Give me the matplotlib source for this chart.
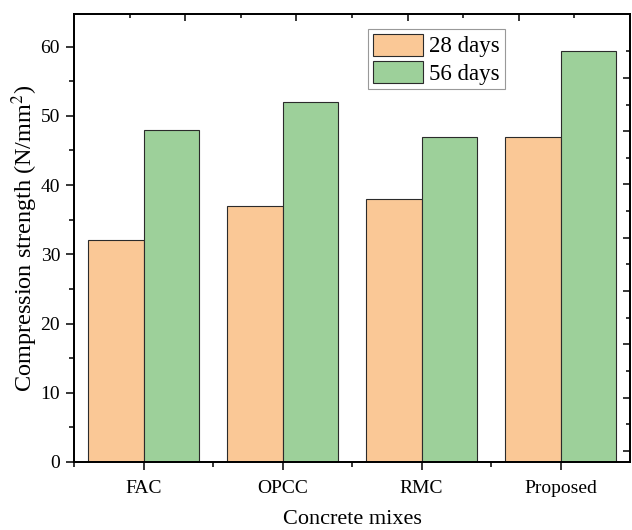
import matplotlib
matplotlib.use("Agg")
import numpy as np
import matplotlib.pyplot as plt
from matplotlib.ticker import MultipleLocator, FixedLocator, NullFormatter

# data
mixes = ['FAC', 'OPCC', 'RMC', 'Proposed']
days28 = [32, 37, 38, 47]
days56 = [48, 52, 47, 59.3]
series_names = ['28 days', '56 days']

c28 = '#FAC896'
c56 = '#9DD09A'

plt.rcParams['font.family'] = ['Liberation Serif', 'DejaVu Serif']
plt.rcParams['mathtext.fontset'] = 'stix'

fig = plt.figure(figsize=(6.32, 5.3), dpi=100)
ax = fig.add_axes([74/632, 68/530, 556/632, 448/530])

x = np.arange(len(mixes))
w = 0.4
ax.bar(x, days28, width=-w, align='edge', color=c28, edgecolor='#2b2b2b', linewidth=0.8, label=series_names[0], zorder=2)
ax.bar(x, days56, width=w, align='edge', color=c56, edgecolor='#2b2b2b', linewidth=0.8, label=series_names[1], zorder=2)

ax.set_xlim(-0.5, 3.5)
ax.set_ylim(0, 64.7)
ax.set_xticks(x)
ax.set_xticklabels(mixes)
ax.xaxis.set_minor_locator(FixedLocator([-0.5, 0.5, 1.5, 2.5]))
ax.yaxis.set_major_locator(MultipleLocator(10))
ax.yaxis.set_minor_locator(MultipleLocator(5))
ax.tick_params(which='major', direction='out', length=6, width=1.1, labelsize=14, pad=4)
ax.tick_params(axis='x', which='major', pad=7)
ax.tick_params(which='minor', direction='out', length=3.5, width=1.1)
for s in ax.spines.values():
    s.set_linewidth(1.1)

ax.set_xlabel('Concrete mixes', fontsize=16, labelpad=9)
ax.set_ylabel('Compression strength (N/mm$^2$)', fontsize=17.5, labelpad=0)

# Origin-style top/right axes with their own ticks, pointing in
axt = ax.twiny()
axt.set_xlim(0, 10)
axt.xaxis.set_major_locator(FixedLocator([2, 4, 6, 8]))
axt.xaxis.set_minor_locator(FixedLocator([1, 3, 5, 7, 9]))
axt.xaxis.set_major_formatter(NullFormatter())
axt.tick_params(which='major', direction='in', length=5, width=1.1)
axt.tick_params(which='minor', direction='in', length=3, width=1.1)

axr = ax.twinx()
axr.set_ylim(-0.21, 8.2)
axr.yaxis.set_major_locator(FixedLocator(range(8)))
axr.yaxis.set_minor_locator(FixedLocator(np.arange(0.5, 8, 1)))
axr.yaxis.set_major_formatter(NullFormatter())
axr.tick_params(which='major', direction='in', length=5, width=1.1)
axr.tick_params(which='minor', direction='in', length=3, width=1.1)
for a in (axt, axr):
    for s in a.spines.values():
        s.set_linewidth(1.1)

leg = ax.legend(loc='upper left', bbox_to_anchor=(294/556, 1 - 15/448), fontsize=16.5,
                frameon=True, fancybox=False, edgecolor='#999999', framealpha=1,
                handlelength=2.2, handleheight=1.1, handletextpad=0.28,
                borderpad=0.2, labelspacing=0.15, borderaxespad=0)
leg.get_frame().set_linewidth(0.8)
leg.set_zorder(5)

fig.savefig('out.png', dpi=100)
